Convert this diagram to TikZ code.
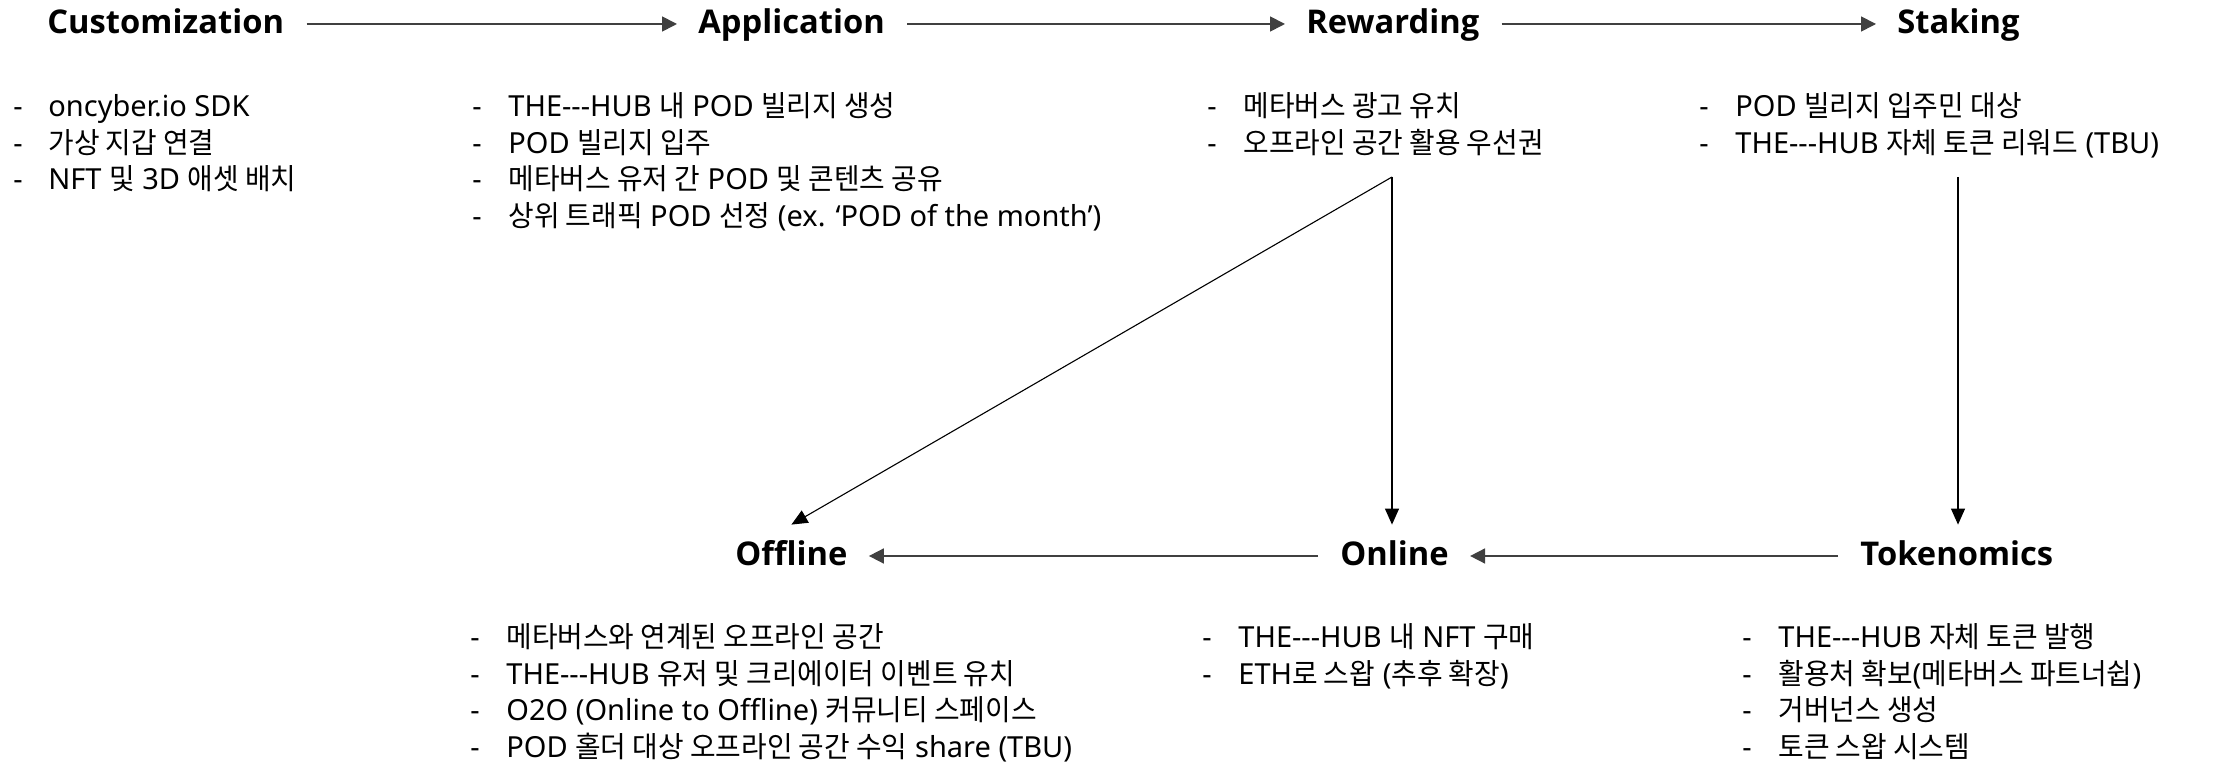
\documentclass[tikz,border=0pt]{standalone}
\usepackage{fontspec}
\usepackage{array}
\setmainfont{Noto Sans}
\newfontfamily\krf{Noto Sans CJK KR}[FakeStretch=0.96]
\IfFontExistsTF{Noto Sans Bold}{\newfontfamily\hdfont{Noto Sans Bold}}{%
  \IfFontExistsTF{Open Sans Bold}{\newfontfamily\hdfont{Open Sans Bold}}{%
    \newfontfamily\hdfont{Noto Sans CJK KR Bold}}}
\usetikzlibrary{arrows.meta,calc}
\newcommand\thehubtxt{THE-{}-{}-HUB}
\newcommand\kr[1]{{\krf #1}}
\begin{document}
\begin{tikzpicture}[x=0.5pt,y=-0.5pt,
  hdr/.style={font=\hdfont\fontsize{16.35}{20}\selectfont, inner sep=0pt,
    text height=10pt, text depth=0pt, anchor=west},
  lst/.style={font=\fontsize{14.5}{18.25}\selectfont, inner sep=0pt, anchor=base west},
  harr/.style={draw=black!75, line width=0.85pt,
    -{Triangle[length=7.5pt,width=7.5pt]}, shorten <=11pt, shorten >=10.5pt},
  varr/.style={draw=black, line width=0.55pt,
    -{Triangle[length=8pt,width=7pt]}}]
\useasboundingbox (0,0) rectangle (2223,769);
% headers
\node[hdr] (cust) at (47,24) {Customization};
\node[hdr] (app)  at (698,24) {Application};
\node[hdr] (rew)  at (1306,24) {Rewarding};
\node[hdr] (stk)  at (1897,24) {Staking};
\node[hdr] (off)  at (735,556) {Offline};
\node[hdr] (onl)  at (1340,556) {Online};
\node[hdr] (tok)  at (1860,556) {Tokenomics};
% lists
\node[lst] (custl) at (13,117) {\begin{tabular}[t]{@{}p{17.5pt}@{}l@{}}
-& oncyber.io SDK\\
-& \kr{가상 지갑 연결}\\
-& NFT \kr{및} 3D \kr{애셋 배치}\end{tabular}};
\node[lst] (appl) at (472,117) {\begin{tabular}[t]{@{}p{18pt}@{}l@{}}
-& \thehubtxt{} \kr{내} POD \kr{빌리지 생성}\\
-& POD \kr{빌리지 입주}\\
-& \kr{메타버스 유저 간} POD \kr{및 콘텐츠 공유}\\
-& \kr{상위 트래픽} POD \kr{선정} (ex. ‘POD of the month’)\end{tabular}};
\node[lst] (rewl) at (1207,117) {\begin{tabular}[t]{@{}p{18pt}@{}l@{}}
-& \kr{메타버스 광고 유치}\\
-& \kr{오프라인 공간 활용 우선권}\end{tabular}};
\node[lst] (stkl) at (1699,117) {\begin{tabular}[t]{@{}p{18pt}@{}l@{}}
-& POD \kr{빌리지 입주민 대상}\\
-& \thehubtxt{} \kr{자체 토큰 리워드} (TBU)\end{tabular}};
\node[lst] (offl) at (470,648) {\begin{tabular}[t]{@{}p{18pt}@{}l@{}}
-& \kr{메타버스와 연계된 오프라인 공간}\\
-& \thehubtxt{} \kr{유저 및 크리에이터 이벤트 유치}\\
-& O2O (Online to Offline) \kr{커뮤니티 스페이스}\\
-& POD \kr{홀더 대상 오프라인 공간 수익} share (TBU)\end{tabular}};
\node[lst] (onll) at (1202,648) {\begin{tabular}[t]{@{}p{18pt}@{}l@{}}
-& \thehubtxt{} \kr{내} NFT \kr{구매}\\
-& ETH\kr{로 스왑} (\kr{추후 확장})\end{tabular}};
\node[lst] (tokl) at (1742,648) {\begin{tabular}[t]{@{}p{18pt}@{}l@{}}
-& \thehubtxt{} \kr{자체 토큰 발행}\\
-& \kr{활용처 확보}(\kr{메타버스 파트너쉽})\\
-& \kr{거버넌스 생성}\\
-& \kr{토큰 스왑 시스템}\end{tabular}};
% connector origins
\coordinate (r0) at (1392,177);
\coordinate (s0) at (1958,177);
% arrows
\draw[harr] (cust) -- (app);
\draw[harr] (app) -- (rew);
\draw[harr] (rew) -- (stk);
\draw[harr] (tok) -- (onl);
\draw[harr] (onl) -- (off);
\draw[varr] (r0) -- ([yshift=10.5pt]off.north);
\draw[varr] (r0) -- ([yshift=10.5pt]r0 |- onl.north);
\draw[varr] (s0) -- ([yshift=10.5pt]s0 |- tok.north);
\end{tikzpicture}
\end{document}
